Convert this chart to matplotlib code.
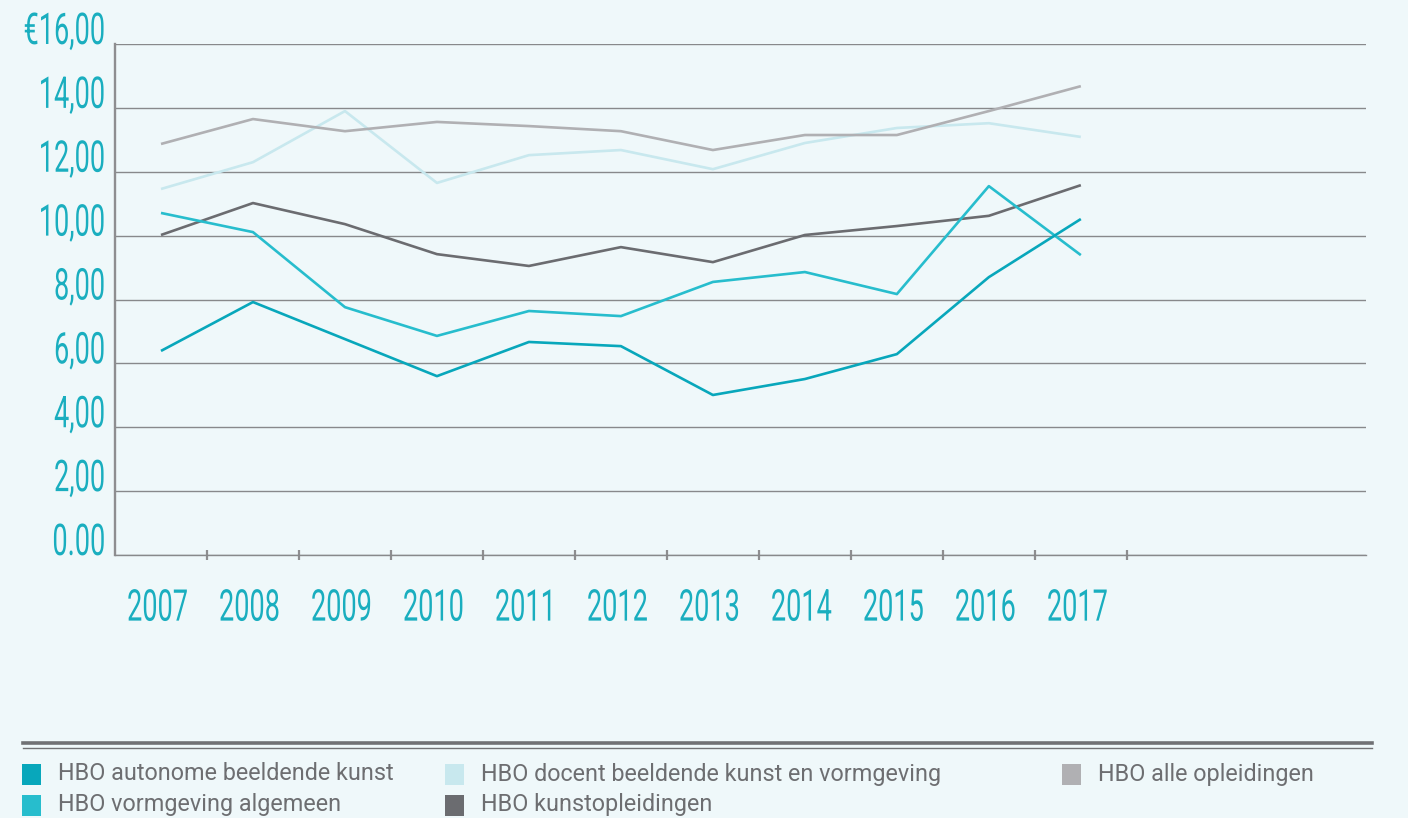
import matplotlib
matplotlib.use('Agg')
import matplotlib.pyplot as plt
from matplotlib.patheffects import AbstractPathEffect
from matplotlib.transforms import Affine2D
from matplotlib.patches import Rectangle
from matplotlib.lines import Line2D

# ---------------- data ----------------
years = ['2007', '2008', '2009', '2010', '2011', '2012', '2013', '2014', '2015', '2016', '2017']
autonome = [6.39, 7.92, 6.76, 5.60, 6.67, 6.54, 5.01, 5.51, 6.29, 8.70, 10.52]
vormgeving = [10.71, 10.11, 7.76, 6.86, 7.64, 7.48, 8.55, 8.86, 8.17, 11.55, 9.39]
docent = [11.46, 12.30, 13.90, 11.65, 12.52, 12.68, 12.08, 12.90, 13.37, 13.52, 13.09]
alle = [12.87, 13.65, 13.27, 13.56, 13.43, 13.27, 12.68, 13.15, 13.15, 13.90, 14.68]
kunst = [10.02, 11.02, 10.36, 9.42, 9.05, 9.64, 9.17, 10.02, 10.30, 10.62, 11.58]

series_labels = ['HBO autonome beeldende kunst', 'HBO vormgeving algemeen',
                 'HBO docent beeldende kunst en vormgeving', 'HBO kunstopleidingen',
                 'HBO alle opleidingen']
series_values = [autonome, vormgeving, docent, kunst, alle]
series_colors = ['#08a7bb', '#27bdcd', '#c8e8ee', '#6b6c70', '#b0b0b3']

y_ticks = [0, 2, 4, 6, 8, 10, 12, 14, 16]
y_tick_labels = ['0.00', '2,00', '4,00', '6,00', '8,00', '10,00', '12,00', '14,00', '€16,00']

# ---------------- style ----------------
BG = '#eff8fa'
TEAL = '#1aaebf'
GRID = '#88898b'
TXT = '#6d6e71'
W, H = 1408, 818
STRETCH = 1 / 0.62          # tall, condensed look of the original digits
LABEL_SIZE = 31.5 * 0.62


class VStretch(AbstractPathEffect):
    """Stretch glyph outlines vertically (emulates a condensed font while
    keeping the text's real layout box as narrow as the drawn glyphs)."""
    def __init__(self, sy, anchor='baseline', dx=0.0):
        super().__init__()
        self.sy = sy
        self.anchor = anchor
        self.dx = dx

    def draw_path(self, renderer, gc, tpath, affine, rgbFace=None):
        if self.anchor == 'top':
            ya = tpath.get_extents().y1
        else:
            ya = 0.0
        t = Affine2D().translate(0, -ya).scale(1.0, self.sy).translate(0, ya)
        renderer.draw_path(gc, tpath, t + affine + Affine2D().translate(self.dx, 0), rgbFace)


fig = plt.figure(figsize=(W / 100, H / 100), dpi=100, facecolor=BG)
ax = fig.add_axes([115 / W, 1 - 555 / H, (1366 - 115) / W, (555 - 44) / H])
ax.set_facecolor(BG)

x = list(range(len(years)))
draw_order = [2, 4, 3, 1, 0]
for i in draw_order:
    ax.plot(x, series_values[i], color=series_colors[i], lw=1.9, zorder=3,
            solid_joinstyle='round', solid_capstyle='butt')

ax.set_xlim(-0.5, 13.1)
ax.set_ylim(0, 16)

ax.set_xticks(x, years)
ax.set_xticks([i + 0.5 for i in x], minor=True)
ax.tick_params(axis='x', which='major', length=0, pad=23.5, labelsize=LABEL_SIZE, labelcolor=TEAL)
ax.tick_params(axis='x', which='minor', length=7, width=1.6, color='#8e8e90', direction='inout')

ax.set_yticks(y_ticks, y_tick_labels)
ax.tick_params(axis='y', length=0, pad=7, labelsize=LABEL_SIZE, labelcolor=TEAL)

ax.grid(axis='y', color=GRID, lw=1.0, zorder=1)
ax.set_axisbelow(True)
for s in ['top', 'right']:
    ax.spines[s].set_visible(False)
ax.spines['left'].set_color('#8e8e90')
ax.spines['left'].set_linewidth(1.7)
ax.spines['bottom'].set_color(GRID)
ax.spines['bottom'].set_linewidth(1.0)

for lbl in ax.get_xticklabels():
    lbl.set_fontfamily(['Roboto', 'DejaVu Sans'])
    lbl.set_path_effects([VStretch(STRETCH, 'top', dx=-3.5)])
for lbl in ax.get_yticklabels():
    lbl.set_fontfamily(['Roboto', 'DejaVu Sans'])
    lbl.set_verticalalignment('baseline')
    lbl.set_path_effects([VStretch(STRETCH, 'baseline')])

# ---------------- legend (manual) ----------------
fig.add_artist(Line2D([23 / W, 1372 / W], [1 - 743 / H] * 2, color='#707174', lw=2.6,
                      transform=fig.transFigure))
fig.add_artist(Line2D([23 / W, 1372 / W], [1 - 748 / H] * 2, color='#707174', lw=1.0,
                      transform=fig.transFigure))

col_x = [22, 445, 1062]
row_y = [774, 805]
legend_slots = [(0, 0), (0, 1), (1, 0), (1, 1), (2, 0)]
for (c, r), lab, colr in zip(legend_slots, series_labels, series_colors):
    sx, cy = col_x[c], row_y[r]
    fig.add_artist(Rectangle((sx / W, 1 - (cy + 10.5) / H), 19 / W, 21 / H,
                             transform=fig.transFigure, facecolor=colr, edgecolor='none'))
    fig.text((sx + 36) / W, 1 - cy / H, lab, va='center', ha='left', fontsize=16.8,
             color=TXT, family=['Roboto', 'DejaVu Sans'])

fig.savefig('out.png', dpi=100, facecolor=BG)
